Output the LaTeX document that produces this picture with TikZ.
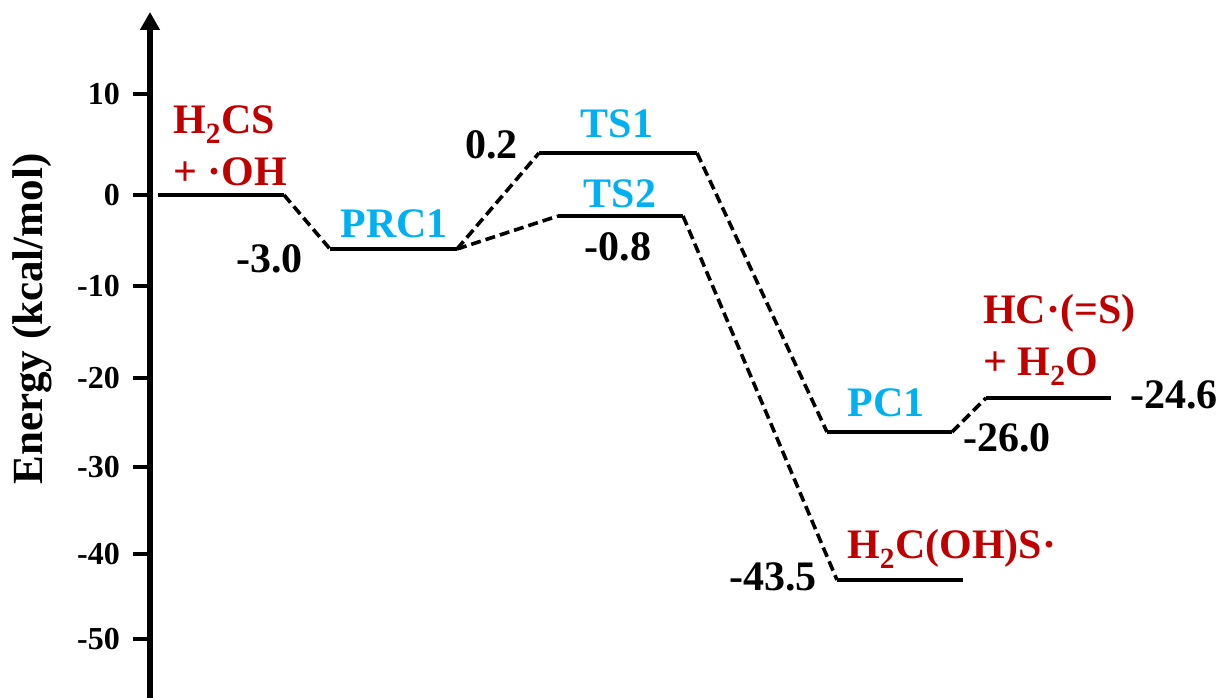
\documentclass[tikz,border=0pt]{standalone}
\usepackage{fontspec}
\setmainfont{Liberation Serif}
\usetikzlibrary{arrows.meta}

\definecolor{tscyan}{HTML}{00B0F0}
\definecolor{spred}{HTML}{C00000}

\tikzset{
        level/.style={line width=4.5pt},
        link/.style={line width=3.6pt, dash pattern=on 10pt off 5pt},
        val/.style={inner sep=0pt, font=\bfseries\fontsize{42}{52}\selectfont},
        ts/.style={val, text=tscyan},
        sp/.style={val, text=spred, align=left},
        ticklab/.style={inner sep=0pt, anchor=east, font=\bfseries\fontsize{32}{36}\selectfont},
}

\begin{document}
\begin{tikzpicture}[x=1pt, y=-1pt]
        \useasboundingbox (0, 0) rectangle (1228, 698);
        % axis
        \draw[line width=6pt, -{Triangle[length=18pt, width=19pt]}] (150, 698) -- (150, 12);
        \foreach \v/\y in {10/94, 0/195, -10/286, -20/378, -30/467, -40/554, -50/639} {
                \draw[line width=4.5pt] (133, \y) -- (150, \y);
                \node[ticklab] (tick\v) at (120, \y) {\v};
        }
        \node[val, rotate=90, anchor=base, font=\bfseries\fontsize{43}{48}\selectfont] (ylab) at (42, 319) {Energy (kcal/mol)};
        % levels
        \coordinate (R-l) at (158, 195);    \coordinate (R-r) at (284, 195);
        \coordinate (PRC1-l) at (330, 249); \coordinate (PRC1-r) at (457, 249);
        \coordinate (TS1-l) at (539, 153);  \coordinate (TS1-r) at (697, 153);
        \coordinate (TS2-l) at (558, 216);  \coordinate (TS2-r) at (683, 216);
        \coordinate (PC1-l) at (827, 432);  \coordinate (PC1-r) at (952, 432);
        \coordinate (P1-l) at (986, 398);   \coordinate (P1-r) at (1111, 398);
        \coordinate (P2-l) at (837, 580);   \coordinate (P2-r) at (963, 580);
        \draw[level] (R-l) -- (R-r);
        \draw[level] (PRC1-l) -- (PRC1-r);
        \draw[level] (TS1-l) -- (TS1-r);
        \draw[level] (TS2-l) -- (TS2-r);
        \draw[level] (PC1-l) -- (PC1-r);
        \draw[level] (P1-l) -- (P1-r);
        \draw[level] (P2-l) -- (P2-r);
        % paths
        \draw[link] (R-r) -- (PRC1-l);
        \draw[link] (PRC1-r) -- (TS1-l);
        \draw[link] (PRC1-r) -- (TS2-l);
        \draw[link] (TS1-r) -- (PC1-l);
        \draw[link] (PC1-r) -- (P1-l);
        \draw[link] (TS2-r) -- (P2-l);
        % labels
        \node[sp, anchor=base west] (Rlab) at (173, 185) {H\textsubscript{2}CS\\+ ·OH};
        \node[val, anchor=base east] (Rval) at (303, 272) {-3.0};
        \node[ts, anchor=base] (PRC1lab) at (394, 237) {PRC1};
        \node[val, anchor=base east] (TS1val) at (518, 158) {0.2};
        \node[ts, anchor=base] (TS1lab) at (617, 137) {TS1};
        \node[ts, anchor=base] (TS2lab) at (620, 207) {TS2};
        \node[val, anchor=base] (TS2val) at (618, 260) {-0.8};
        \node[ts, anchor=base] (PC1lab) at (886, 416) {PC1};
        \node[val, anchor=base west] (PC1val) at (963, 451) {-26.0};
        \node[sp, anchor=base west] (P1lab) at (983, 375) {HC·(=S)\\+ H\textsubscript{2}O};
        \node[val, anchor=base west] (P1val) at (1130, 408) {-24.6};
        \node[sp, anchor=base west] (P2lab) at (847, 558) {H\textsubscript{2}C(OH)S·};
        \node[val, anchor=base east] (P2val) at (817, 590) {-43.5};
\end{tikzpicture}
\end{document}
